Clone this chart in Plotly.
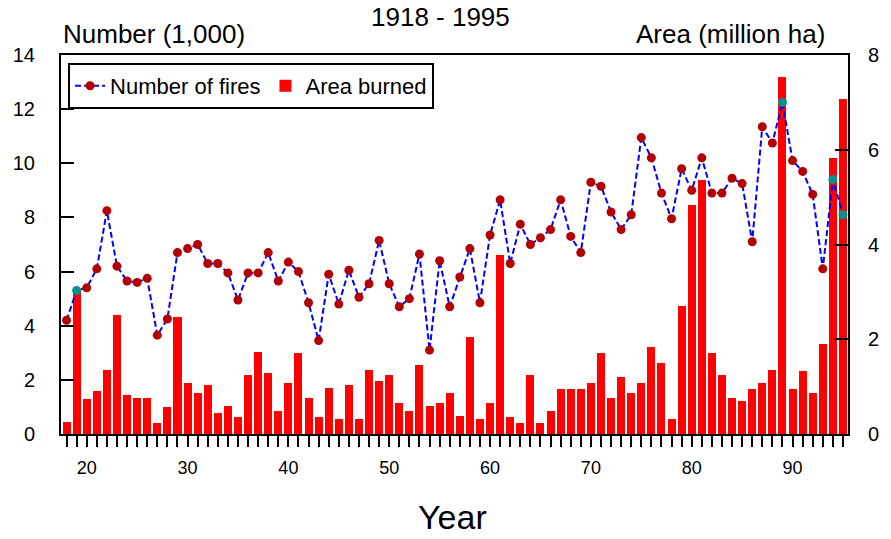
import plotly.graph_objects as go

years = list(range(1918, 1996))

number_of_fires = [
    4.2, 5.3, 5.4, 6.1, 8.25, 6.2, 5.65, 5.6, 5.75, 3.65,
    4.25, 6.7, 6.85, 7.0, 6.3, 6.3, 5.95, 4.95, 5.95, 5.95,
    6.7, 5.65, 6.35, 6.0, 4.85, 3.45, 5.9, 4.8, 6.05, 5.05,
    5.55, 7.15, 5.55, 4.7, 5.0, 6.65, 3.1, 6.4, 4.7, 5.8,
    6.85, 4.85, 7.35, 8.65, 6.3, 7.75, 7.0, 7.25, 7.55, 8.65,
    7.3, 6.7, 9.3, 9.15, 8.2, 7.55, 8.1, 10.95, 10.2, 8.9,
    7.95, 9.8, 9.0, 10.2, 8.9, 8.9, 9.45, 9.25, 7.1, 11.35,
    10.75, 12.25, 10.1, 9.7, 8.85, 6.1, 9.4, 8.1,
]

area_burned = [
    0.26, 3.07, 0.73, 0.91, 1.36, 2.51, 0.82, 0.77, 0.77, 0.23,
    0.56, 2.47, 1.07, 0.86, 1.03, 0.44, 0.60, 0.35, 1.24, 1.74,
    1.28, 0.48, 1.07, 1.70, 0.77, 0.35, 0.98, 0.31, 1.03, 0.31,
    1.36, 1.11, 1.24, 0.65, 0.48, 1.45, 0.60, 0.65, 0.86, 0.39,
    2.04, 0.31, 0.65, 3.78, 0.35, 0.23, 1.24, 0.23, 0.48, 0.94,
    0.94, 0.94, 1.07, 1.70, 0.77, 1.20, 0.86, 1.07, 1.83, 1.49,
    0.31, 2.71, 4.83, 5.37, 1.70, 1.24, 0.77, 0.69, 0.94, 1.07,
    1.36, 7.54, 0.94, 1.32, 0.86, 1.91, 5.82, 7.08,
]

# points drawn over the red bars appear teal in the original
teal_years = [1919, 1989, 1994, 1995]
marker_colors = ["#0a8f8f" if y in teal_years else "#b40000" for y in years]

decade_labels = {1920: "20", 1930: "30", 1940: "40", 1950: "50",
                 1960: "60", 1970: "70", 1980: "80", 1990: "90"}
x_ticktext = [decade_labels.get(y, "") for y in years]

FONT = "Liberation Sans, Arial, sans-serif"

fig = go.Figure()

fig.add_trace(go.Bar(
    x=years, y=area_burned, name="Area burned",
    marker=dict(color="#ff0000", line=dict(width=0)),
    width=0.8, yaxis="y",
))

fig.add_trace(go.Scatter(
    x=years, y=number_of_fires, name="Number of fires",
    mode="lines+markers",
    line=dict(color="#0000ff", width=2, dash="6px,3px"),
    marker=dict(color=marker_colors, size=9, symbol="circle"),
    yaxis="y2",
))

fig.update_layout(
    width=891, height=539,
    margin=dict(l=61, r=38, t=55, b=105),
    paper_bgcolor="white", plot_bgcolor="white",
    font=dict(family=FONT, color="black", size=18),
    bargap=0,
    showlegend=True,
    legend=dict(
        orientation="h", x=0.009, y=0.979, xanchor="left", yanchor="top",
        bordercolor="black", borderwidth=2, bgcolor="white",
        font=dict(size=22, family=FONT), traceorder="reversed",
        itemwidth=30,
    ),
    xaxis=dict(
        range=[1917.45, 1995.5],
        tickmode="array", tickvals=years, ticktext=x_ticktext,
        ticks="outside", ticklen=11, tickwidth=2, tickcolor="black",
        showline=True, linecolor="black", linewidth=2, mirror=True,
        showgrid=False, zeroline=False,
        tickfont=dict(size=18), ticklabelstandoff=5,
    ),
    yaxis=dict(
        range=[0, 8], side="right",
        tickmode="array", tickvals=[0, 2, 4, 6, 8],
        ticks="inside", ticklen=13, tickwidth=2, tickcolor="black",
        showline=True, linecolor="black", linewidth=2,
        showgrid=False, zeroline=False,
        tickfont=dict(size=20), ticklabelstandoff=14,
    ),
    yaxis2=dict(
        range=[0, 14], side="left", overlaying="y", anchor="x",
        tickmode="array", tickvals=[0, 2, 4, 6, 8, 10, 12, 14],
        ticks="inside", ticklen=13, tickwidth=2, tickcolor="black",
        showline=True, linecolor="black", linewidth=2,
        showgrid=False, zeroline=False,
        tickfont=dict(size=20), ticklabelstandoff=20,
    ),
    annotations=[
        dict(text="1918 - 1995", xref="paper", yref="paper", x=0.482, y=1,
             xanchor="center", yanchor="top", yshift=55, showarrow=False,
             font=dict(size=26, family=FONT)),
        dict(text="Number (1,000)", xref="paper", yref="paper", x=0.0, y=1,
             xanchor="left", yanchor="bottom", yshift=4, showarrow=False,
             font=dict(size=26, family=FONT)),
        dict(text="Area (million ha)", xref="paper", yref="paper", x=0.973, y=1,
             xanchor="right", yanchor="bottom", yshift=4, showarrow=False,
             font=dict(size=26, family=FONT)),
        dict(text="Year", xref="paper", yref="paper", x=0.497, y=0,
             xanchor="center", yanchor="middle", yshift=-83, showarrow=False,
             font=dict(size=34, family=FONT)),
    ],
)

fig.write_html("out.html")
